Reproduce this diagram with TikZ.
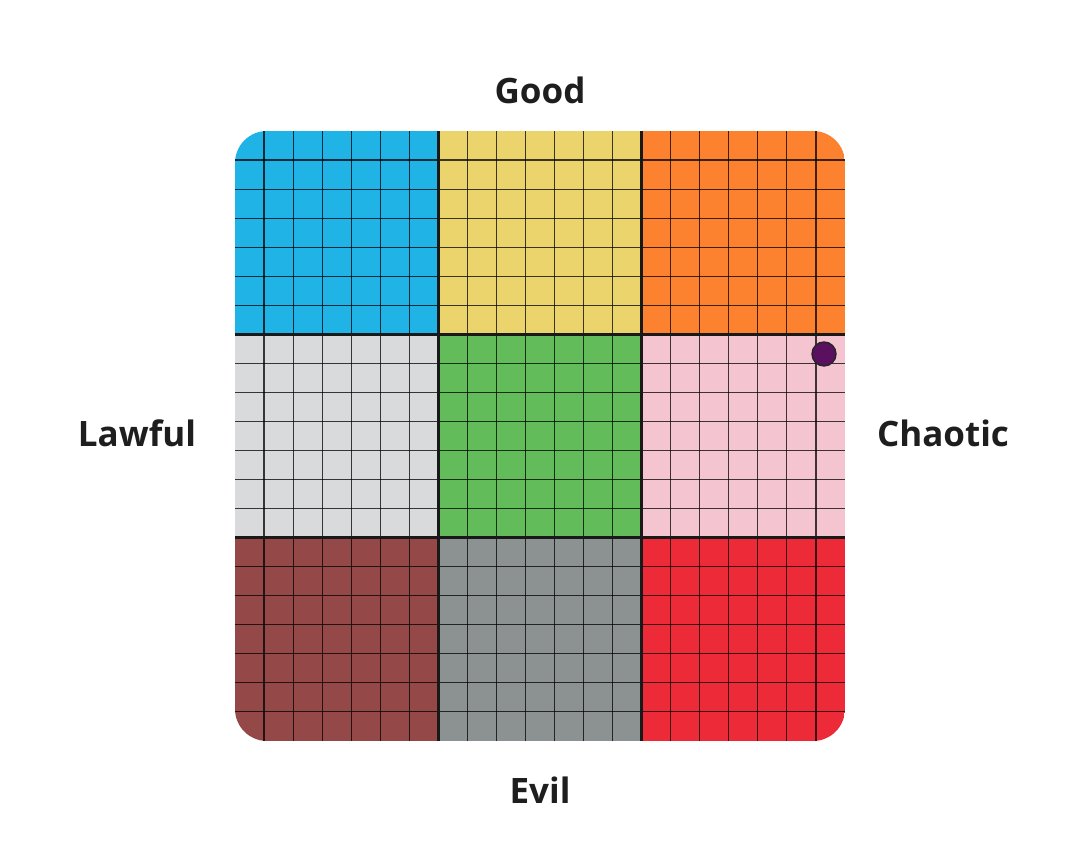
\documentclass[tikz,border=0pt]{standalone}
\usepackage{fontspec}
\setmainfont{Open Sans}
\definecolor{cblue}{HTML}{1FB3E6}
\definecolor{cyellow}{HTML}{ECD46C}
\definecolor{corange}{HTML}{FD8230}
\definecolor{clgray}{HTML}{D9DADC}
\definecolor{cgreen}{HTML}{63BC5A}
\definecolor{cpink}{HTML}{F4C4D0}
\definecolor{cbrown}{HTML}{944848}
\definecolor{cdgray}{HTML}{8C9192}
\definecolor{cred}{HTML}{EC2A38}
\definecolor{cdot}{HTML}{5B0F5F}
\definecolor{ctext}{HTML}{1E1E1E}
\begin{document}
\begin{tikzpicture}[x=1pt,y=1pt,
  lbl/.style={font=\bfseries\fontsize{35}{40}\selectfont, text=ctext, inner sep=0pt},
  thinline/.style={draw=black, draw opacity=0.75, line width=1.1pt},
  thickline/.style={draw=black!90, line width=3pt},
  marker/.style={circle, minimum size=24pt, inner sep=0pt, fill=cdot, draw=black!85, line width=1.4pt}]
\useasboundingbox (0,0) rectangle (1080,866);
\begin{scope}
  \clip[rounded corners=32pt] (235,125) rectangle (845,735);
  \foreach \col/\c/\r in {cblue/0/0, cyellow/1/0, corange/2/0, clgray/0/1, cgreen/1/1, cpink/2/1, cbrown/0/2, cdgray/1/2, cred/2/2}
    \fill[\col] ({235+\c*610/3},{735-\r*610/3}) rectangle ++({610/3},{-610/3});
  \foreach \k in {1,...,20} {
    \draw[thinline] ({235+\k*610/21},125) -- ++(0,610);
    \draw[thinline] (235,{125+\k*610/21}) -- ++(610,0);
  }
  \foreach \k in {1,2} {
    \draw[thickline] ({235+\k*610/3},125) -- ++(0,610);
    \draw[thickline] (235,{125+\k*610/3}) -- ++(610,0);
  }
\end{scope}
\node[marker] (dot) at (824,512) {};
\node[lbl] (good) at (540,776) {Good};
\node[lbl] (lawful) at (137,433) {Lawful};
\node[lbl] (chaotic) at (943,433) {Chaotic};
\node[lbl] (evil) at (540,76) {Evil};
\end{tikzpicture}
\end{document}
